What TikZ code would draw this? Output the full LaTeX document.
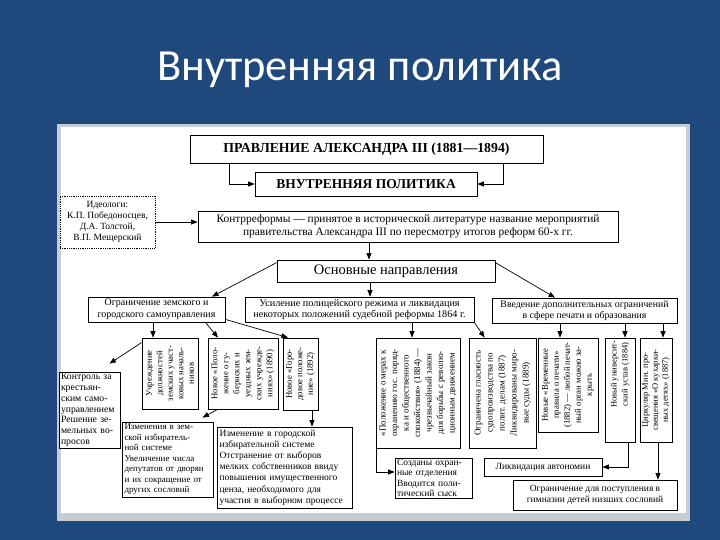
\documentclass[tikz,border=0pt]{standalone}
\usepackage{fontspec}
\setmainfont{Liberation Serif}
\newfontfamily\titlefont{Carlito}
\usetikzlibrary{arrows.meta,calc}
\definecolor{bgblue}{HTML}{1F497D}
\definecolor{framegrey}{HTML}{C8CDD4}
\newcommand\fz[2]{\fontsize{#1}{#2}\selectfont}
% [options]{name}{x1}{y1}{x2}{y2}{text}
\newcommand\bx[7][]{\node[box,minimum width={(#5-#3)*1pt},minimum height={(#6-#4)*1pt},#1] (#2) at ({(#3+#5)/2},{(#4+#6)/2}) {#7};}
\begin{document}
\begin{tikzpicture}[x=1pt,y=-1pt,
  box/.style={draw=black, line width=0.8pt, inner sep=0pt, fill=white, align=center},
  arr/.style={-{Triangle[length=6.5pt,width=5pt]}, line width=0.7pt},
  vt/.style={rotate=90, align=center, inner sep=0pt},
  ]
\useasboundingbox (0,0) rectangle (720,540);
\fill[bgblue] (0,0) rectangle (720,540);
\fill[framegrey] (57,124) rectangle (690,521);
\fill[white] (61,127) rectangle (686,513);
\node[text=white, font=\titlefont\fz{44.5}{50}] (title) at (360,70) {Внутренняя политика};

\bx[font=\bfseries\fz{13.8}{15}]{top}{190}{135}{543}{163}{ПРАВЛЕНИЕ АЛЕКСАНДРА III (1881—1894)}
\bx[font=\bfseries\fz{13.5}{15}]{vp}{255}{172}{477}{196}{ВНУТРЕННЯЯ ПОЛИТИКА}
\bx[densely dotted, font=\fz{9.5}{11}]{ideo}{60}{196}{155}{248}{Идеологи:\\К.П. Победоносцев,\\Д.А. Толстой,\\В.П. Мещерский}
\bx[font=\fz{11.4}{12.5}]{kontr}{198}{211}{618}{242}{Контрреформы — принятое в исторической литературе название мероприятий\\правительства Александра III по пересмотру итогов реформ 60-х гг.}
\bx[font=\fz{14.5}{16}]{osn}{277}{260}{495}{282}{Основные направления}
\bx[font=\fz{10}{11.5}]{ogr}{88}{297}{225}{322}{Ограничение земского и\\городского самоуправления}
\bx[font=\fz{10.2}{11.5}]{usil}{245}{297}{474}{322}{Усиление полицейского режима и ликвидация\\некоторых положений судебной реформы 1864 г.}
\bx[font=\fz{9.8}{11.5}]{vved}{492}{298}{677}{323}{Введение дополнительных ограничений\\в сфере печати и образования}

\bx{uchr}{142}{338}{198}{409}{}
\node[vt, font=\fz{8.7}{10.5}] (uchr-t) at (uchr) {Учреждение\\должностей\\земских участ-\\ковых началь-\\ников};
\bx{novpol}{208}{338}{278}{409}{}
\node[vt, font=\fz{8.7}{11}] (novpol-t) at (novpol) {Новое «Поло-\\жение о гу-\\бернских и\\уездных зем-\\ских учрежде-\\ниях» (1890)};
\bx{gorod}{283}{338}{318}{410}{}
\node[vt, font=\fz{8.7}{10.5}] (gorod-t) at (gorod) {Новое «Горо-\\довое положе-\\ние» (1892)};

\bx[font=\fz{9.7}{10.8}, align=left, text width=57pt]{kontrol}{59}{372}{120}{448}{Контроль за\\крестьян-\\ским само-\\управлением\\Решение зе-\\мельных во-\\просов}
\bx[font=\fz{9}{10.5}, align=left, text width=86pt]{izmz}{122}{422}{213}{497}{Изменения в зем-\\ской избиратель-\\ной системе\\Увеличение числа\\депутатов от дворян\\и их сокращение от\\других сословий}
\bx[font=\fz{9.5}{11.2}, align=left, text width=130pt]{izmg}{217}{427}{352}{508}{Изменение в городской\\избирательной системе\\Отстранение от выборов\\мелких собственников ввиду\\повышения имущественного\\ценза, необходимого для\\участия в выборном процессе}

\bx{polozh}{376}{338}{460}{448}{}
\node[vt, font=\fz{9}{11.5}] (polozh-t) at (polozh) {«Положение о мерах к\\охранению гос. поряд-\\ка и общественного\\спокойствия» (1884) —\\чрезвычайный закон\\для борьбы с револю-\\ционным движением};
\bx{glasn}{469}{338}{536}{448}{}
\node[vt, font=\fz{9}{12}] (glasn-t) at (glasn) {Ограничена гласность\\судопроизводства по\\полит. делам (1887)\\Ликвидированы миро-\\вые суды (1889)};
\bx[font=\fz{9.5}{10.5}, align=left, text width=73pt]{ohran}{395}{458}{472}{498}{Созданы охран-\\ные отделения\\Вводится поли-\\тический сыск}

\bx{vrem}{538}{338}{598}{432}{}
\node[vt, font=\fz{8.7}{11}] (vrem-t) at (vrem) {Новые «Временные\\правила о печати»\\(1882) — любой печат-\\ный орган можно за-\\крыть};
\bx{univ}{605}{338}{635}{442}{}
\node[vt, font=\fz{8.5}{11}, anchor=east] (univ-t) at ([yshift=-3pt]univ.north) {Новый университ-\\ский устав (1884)};
\bx{cirk}{640}{338}{672}{442}{}
\node[vt, font=\fz{8.5}{10}] (cirk-t) at (cirk) {Циркуляр Мин. про-\\свещения «О кухарки-\\ных детях» (1887)};
\bx[font=\fz{9.5}{11}]{likv}{484}{458}{602}{476}{Ликвидация автономии}
\bx[font=\fz{9.5}{11}]{gimn}{513}{480}{677}{510}{Ограничение для поступления в\\гимназии детей низших сословий}

% connectors
\draw[arr] ([xshift=40pt]top.south west) |- (vp.west);
\draw[arr] ([xshift=-40pt]top.south east) |- (vp.east);
\draw[arr] (ideo.east) -- (kontr.west |- ideo.east);
\draw[arr] ([xshift=-39pt]kontr.south) -- ([xshift=-17pt]osn.north);
\draw[arr] ([yshift=-3pt]osn.north west) -- ([xshift=55.5pt]ogr.north);
\draw[arr] ([xshift=-16pt]osn.south) -- ([xshift=10.5pt]usil.north);
\draw[arr] ([yshift=-3pt]osn.north east) -- ([xshift=-29.5pt]vved.north);
\draw[arr] ([xshift=-3.5pt]ogr.south) -- ([xshift=-17pt]uchr.north);
\draw[arr] ([xshift=-20pt]ogr.south east) -- ([xshift=-25pt]novpol.north);
\draw[arr] ([yshift=3pt]ogr.south east) -- ([xshift=-12.5pt]gorod.north);
\draw[arr] ([yshift=-5pt]uchr.north west) -- ([xshift=20pt,yshift=8pt]kontrol.north);
\draw[arr] ([xshift=10pt]novpol.south west) -- ([xshift=35pt,yshift=4pt]izmz.north);
\draw[arr] ([xshift=11.5pt]gorod.south) -- ([xshift=27.5pt]izmg.north);
\draw[arr] ([xshift=52.5pt]usil.south) -- ([xshift=-6pt]polozh.north);
\draw[arr] (usil.south east) -- ([xshift=16pt]glasn.north west);
\draw[arr] ([xshift=1pt]polozh.south west) |- ([yshift=6pt]ohran.west);
\draw[arr] ([xshift=-24.5pt]vved.south) -- ([xshift=-8pt]vrem.north);
\draw[arr] ([xshift=40.5pt]vved.south) -- ([xshift=5pt]univ.north);
\draw[arr] ([xshift=78.5pt]vved.south) -- ([xshift=7pt]cirk.north);
\draw[arr] ([xshift=8pt]univ.south) |- (likv.east);
\draw[arr] ([xshift=2pt]cirk.south) -- ([xshift=63pt]gimn.north);
\end{tikzpicture}
\end{document}
